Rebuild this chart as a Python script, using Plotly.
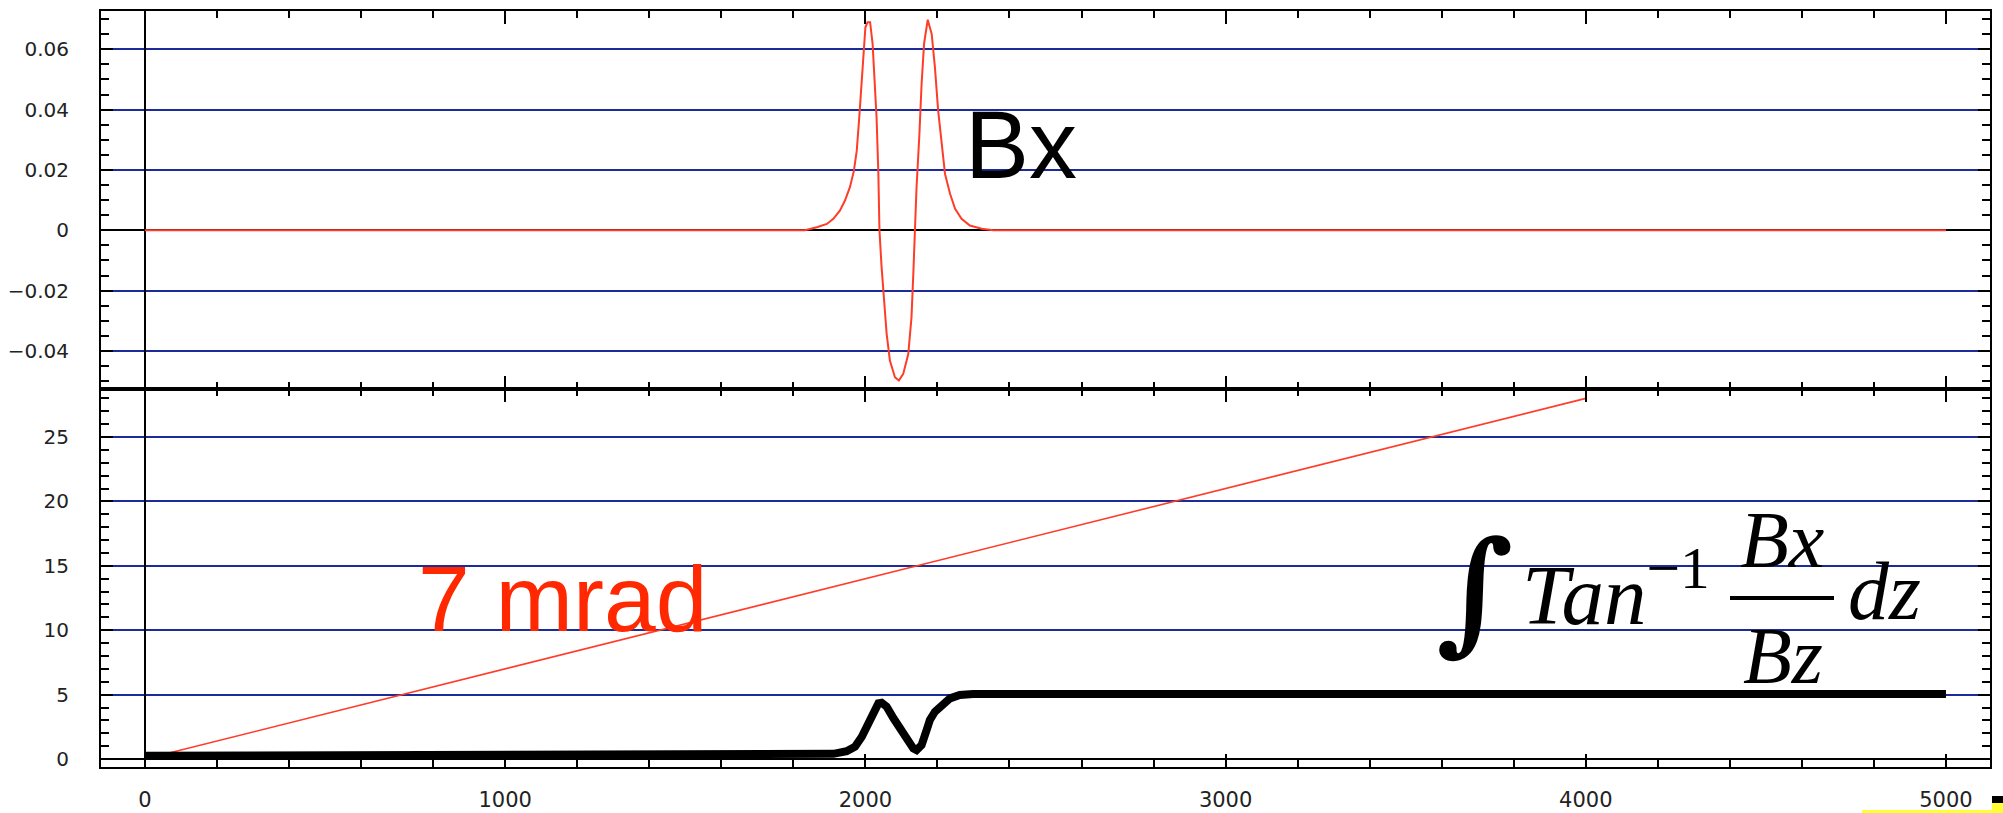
import plotly.graph_objects as go

# ---- data -------------------------------------------------------------
# Bx field profile along z (upper panel)
z_bx = [0, 1832, 1865, 1893, 1911, 1929, 1943, 1957, 1968, 1976, 1983, 1989,
        1994, 2000, 2006, 2013, 2020, 2027, 2031, 2036, 2039, 2045, 2051, 2059,
        2068, 2082, 2093, 2105, 2119, 2128, 2133, 2137, 2142, 2150, 2156, 2163,
        2173, 2184, 2193, 2202, 2212, 2221, 2235, 2249, 2267, 2290, 2323, 2355,
        5000]
bx = [0, 0, 0.001, 0.0021, 0.0038, 0.0065, 0.0098, 0.0143, 0.0197, 0.0264,
      0.0375, 0.0485, 0.0596, 0.0673, 0.069, 0.069, 0.0618, 0.0485, 0.0374,
      0.0187, 0, -0.0123, -0.0233, -0.0343, -0.0432, -0.0487, -0.0498, -0.0476,
      -0.041, -0.0288, -0.0145, 0, 0.0143, 0.032, 0.0485, 0.062, 0.0698, 0.0651,
      0.054, 0.0397, 0.0287, 0.0187, 0.0121, 0.0071, 0.0038, 0.0016, 0.0005, 0,
      0]

# integrated angle (lower panel, thick black)
z_int = [0, 1760, 1874, 1911, 1948, 1971, 1990, 2005, 2022, 2036, 2045, 2059,
         2078, 2096, 2115, 2133, 2142, 2156, 2170, 2179, 2193, 2216, 2235, 2262,
         2299, 2410, 5000]
v_int = [0.25, 0.25, 0.3, 0.4, 0.6, 0.96, 1.73, 2.64, 3.8, 4.32, 4.37, 4.06,
         3.16, 2.38, 1.6, 0.83, 0.7, 1.09, 2.25, 3.03, 3.67, 4.32, 4.71, 4.97,
         5.05, 5.05, 5.05]

# 7 mrad reference slope (lower panel, thin red)
z_ref = [0, 4000]
v_ref = [0, 28]

# tick definitions
x_ticks = [0, 1000, 2000, 3000, 4000, 5000]
x_tick_labels = ["0", "1000", "2000", "3000", "4000", "5000"]
x_grid = [1000, 2000, 3000, 4000]
y1_ticks = [-0.04, -0.02, 0, 0.02, 0.04, 0.06]
y1_tick_labels = ["\u22120.04", "\u22120.02", "0", "0.02", "0.04", "0.06"]
y2_ticks = [0, 5, 10, 15, 20, 25]
y2_tick_labels = ["0", "5", "10", "15", "20", "25"]

# ---- styling ------------------------------------------------------------
RED = "#ff3c28"
GRID = "#1c2b9a"
YFONT = dict(family="DejaVu Sans", size=20, color="#222222")
XFONT = dict(family="DejaVu Sans", size=21, color="#222222")
W, H = 2003, 813
ML, MR, MT, MB = 101, 13, 11, 46
X_RANGE = [-122.2, 5122.2]


def px_x(px):
    return (px - ML) / (W - ML - MR)


def px_y(py):
    return (H - MB - py) / (H - MT - MB)


fig = go.Figure()
fig.add_trace(go.Scatter(x=z_bx, y=bx, mode="lines", xaxis="x", yaxis="y",
                         line=dict(color=RED, width=2), showlegend=False))
fig.add_trace(go.Scatter(x=z_ref, y=v_ref, mode="lines", xaxis="x2", yaxis="y2",
                         line=dict(color=RED, width=1.6), showlegend=False))
fig.add_trace(go.Scatter(x=z_int, y=v_int, mode="lines", xaxis="x2", yaxis="y2",
                         line=dict(color="black", width=8), showlegend=False))

frame = dict(showline=True, linecolor="black", linewidth=2, mirror="ticks",
             ticks="inside", tickcolor="black", tickwidth=2, automargin=False)

xcommon = dict(frame, range=X_RANGE, tickmode="array", tickvals=x_ticks,
               ticktext=x_tick_labels, ticklen=13, showgrid=False,
               zeroline=True, zerolinecolor="black", zerolinewidth=2,
               minor=dict(tick0=0, dtick=200, ticks="inside", ticklen=7,
                          tickwidth=2, tickcolor="black", showgrid=False),
               tickfont=XFONT)

ycommon = dict(frame, tickmode="array", ticklen=12, showgrid=True,
               gridcolor=GRID, gridwidth=2, zeroline=True,
               zerolinecolor="black", zerolinewidth=2, tickfont=YFONT,
               ticklabelstandoff=26)

gridx = dict(range=X_RANGE, tickmode="array", tickvals=x_grid, showgrid=True,
             gridcolor=GRID, gridwidth=2, ticks="", showticklabels=False,
             showline=False, zeroline=False, automargin=False)

fig.update_layout(
    width=W, height=H, autosize=False,
    margin=dict(l=ML, r=MR, t=MT, b=MB, pad=0, autoexpand=False),
    paper_bgcolor="white", plot_bgcolor="white",
    showlegend=False,
    xaxis=dict(xcommon, domain=[0, 1], anchor="y", showticklabels=False),
    yaxis=dict(ycommon, domain=[0.5, 1], anchor="x",
               range=[-0.0526, 0.0727], tickvals=y1_ticks,
               ticktext=y1_tick_labels,
               minor=dict(dtick=0.005, tick0=0, ticks="inside", ticklen=8,
                          tickwidth=2, tickcolor="black", showgrid=False)),
    xaxis2=dict(xcommon, domain=[0, 1], anchor="y2", showticklabels=True,
                ticklabelstandoff=13),
    yaxis2=dict(ycommon, domain=[0, 0.5], anchor="x2",
                range=[-0.62, 28.73], tickvals=y2_ticks,
                ticktext=y2_tick_labels,
                minor=dict(dtick=1, tick0=0, ticks="inside", ticklen=8,
                           tickwidth=2, tickcolor="black", showgrid=False)),
    xaxis3=dict(gridx, overlaying="x", anchor="y"),
    xaxis4=dict(gridx, overlaying="x2", anchor="y2"),
)

SERIF = "Liberation Serif"
ann = [
    dict(text="Bx", x=px_x(1021), y=px_y(144),
         font=dict(family="Liberation Sans", size=96, color="black")),
    dict(text="7 mrad", x=px_x(562), y=px_y(599),
         font=dict(family="Liberation Sans", size=93, color="#ff2800")),
    dict(text="<b>\u222b</b>", x=px_x(1475), y=px_y(590),
         font=dict(family="DejaVu Serif", size=134, color="black")),
    dict(text="<i>Tan</i><sup>\u22121</sup>", x=px_x(1520), y=px_y(588),
         xanchor="left", font=dict(family=SERIF, size=85, color="black")),
    dict(text="<i>Bx</i>", x=px_x(1782), y=px_y(540),
         font=dict(family=SERIF, size=80, color="black")),
    dict(text="<i>Bz</i>", x=px_x(1783), y=px_y(656),
         font=dict(family=SERIF, size=80, color="black")),
    dict(text="<i>dz</i>", x=px_x(1846), y=px_y(591), xanchor="left",
         font=dict(family=SERIF, size=82, color="black")),
]
for a in ann:
    a.setdefault("xanchor", "center")
    fig.add_annotation(xref="paper", yref="paper", yanchor="middle",
                       showarrow=False, **a)

# fraction bar of the formula
fig.add_shape(type="line", xref="paper", yref="paper",
              x0=px_x(1730), x1=px_x(1834), y0=px_y(598), y1=px_y(598),
              line=dict(color="black", width=4))

# stray slide fragment in the lower-right corner
fig.add_shape(type="rect", xref="paper", yref="paper",
              x0=px_x(1862), x1=px_x(2003), y0=px_y(813), y1=px_y(810),
              fillcolor="#ffff33", line=dict(width=0))
fig.add_shape(type="rect", xref="paper", yref="paper",
              x0=px_x(1992), x1=px_x(2003), y0=px_y(813), y1=px_y(803),
              fillcolor="#ffff33", line=dict(width=0))
fig.add_shape(type="rect", xref="paper", yref="paper",
              x0=px_x(1992), x1=px_x(2003), y0=px_y(803), y1=px_y(796),
              fillcolor="black", line=dict(width=0))

fig.write_html("out.html")
